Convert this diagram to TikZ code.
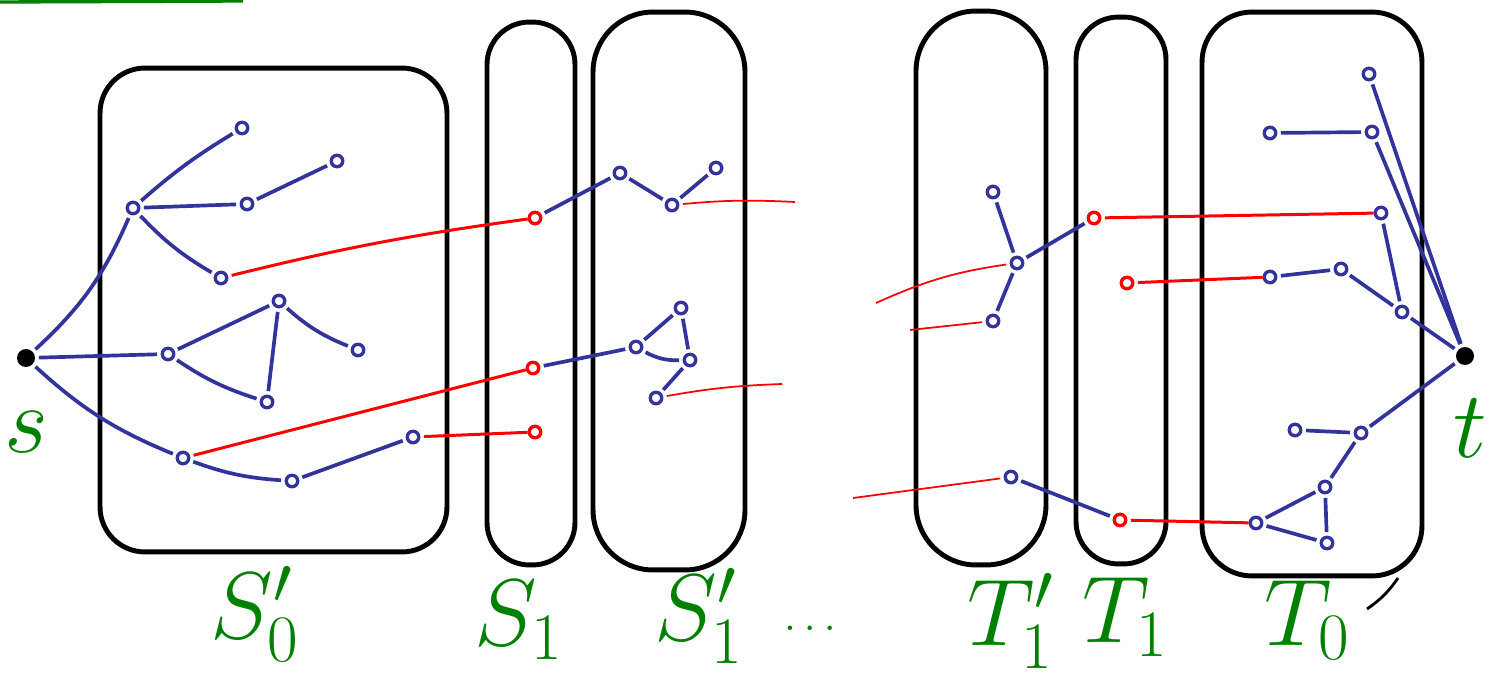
\RequirePackage{fix-cm}
\documentclass[tikz,border=0pt]{standalone}
\definecolor{pen}{HTML}{33339C}
\definecolor{cutred}{HTML}{FF0000}
\definecolor{lab}{HTML}{008000}

\begin{document}
\begin{tikzpicture}[x=0.02cm, y=-0.02cm,
  part/.style={draw=black, line width=2.8pt, rounded corners=#1},
  part/.default=0.9cm,
  vx/.style={circle, draw=pen, line width=1.9pt, inner sep=0pt, minimum size=0.23cm},
  rvx/.style={vx, draw=cutred},
  term/.style={circle, fill=black, inner sep=0pt, minimum size=0.36cm},
  link/.style={pen, line width=2.1pt, shorten <=2pt, shorten >=2pt},
  redlink/.style={cutred, line width=1.7pt, shorten <=2pt},
  stub/.style={cutred, line width=1pt, shorten <=2pt},
  lbl/.style={text=lab, font=\fontsize{54}{54}\selectfont, inner sep=0pt},
]
  \useasboundingbox (0,0) rectangle (1504,686);
  \draw[lab, line width=1.9pt] (0,2) -- (243,1);

  % the parts
  \node[part, minimum width=6.94cm, minimum height=9.68cm] (S0) at (273.5,310) {};
  \node[part=0.85cm, minimum width=1.76cm, minimum height=10.86cm] (S1) at (531,293.5) {};
  \node[part=1.2cm, minimum width=3.04cm, minimum height=11.16cm] (S1p) at (669,291) {};
  \node[part=1.2cm, minimum width=2.6cm, minimum height=11.08cm] (T1p) at (981,288) {};
  \node[part=0.85cm, minimum width=1.8cm, minimum height=10.94cm] (T1) at (1121,290.5) {};
  \node[part=1cm, minimum width=4.4cm, minimum height=11.28cm] (T0) at (1312,294) {};
  \draw[line width=1.6pt] (1398,578) to[bend left=10] (1367,609);

  % terminals
  \node[term] (s) at (26,358) {};
  \node[term] (t) at (1465,356) {};

  % S_0'
  \node[vx] (a) at (133,208) {};
  \node[vx] (b) at (242,128) {};
  \node[vx] (c) at (337,161) {};
  \node[vx] (d) at (247,204) {};
  \node[vx] (e) at (221,278) {};
  \node[vx] (g) at (279,301) {};
  \node[vx] (f) at (168,354) {};
  \node[vx] (h) at (358,350) {};
  \node[vx] (i) at (267,402) {};
  \node[vx] (j) at (183,458) {};
  \node[vx] (k) at (292,481) {};
  \node[vx] (l) at (413,437) {};
  % S_1 and S_1'
  \node[rvx] (m) at (535,218) {};
  \node[rvx] (n) at (533,368) {};
  \node[rvx] (o) at (535,432) {};
  \node[vx] (p) at (620,173) {};
  \node[vx] (q) at (672,205) {};
  \node[vx] (r) at (716,168) {};
  \node[vx] (u) at (636,347) {};
  \node[vx] (w) at (681,308) {};
  \node[vx] (x) at (690,360) {};
  \node[vx] (y) at (656,398) {};
  % T_1' and T_1
  \node[vx] (ta) at (993,192) {};
  \node[vx] (tb) at (1017,263) {};
  \node[vx] (tc) at (993,321) {};
  \node[vx] (td) at (1011,477) {};
  \node[rvx] (ua) at (1094,218) {};
  \node[rvx] (ub) at (1127,283) {};
  \node[rvx] (uc) at (1120,520) {};
  % T_0
  \node[vx] (A) at (1369,74) {};
  \node[vx] (B) at (1270,133) {};
  \node[vx] (C) at (1372,132) {};
  \node[vx] (D) at (1381,213) {};
  \node[vx] (E) at (1270,277) {};
  \node[vx] (F) at (1341,269) {};
  \node[vx] (G) at (1402,312) {};
  \node[vx] (H) at (1295,430) {};
  \node[vx] (I) at (1361,433) {};
  \node[vx] (J) at (1325,487) {};
  \node[vx] (K) at (1256,523) {};
  \node[vx] (L) at (1327,543) {};

  % loose ends of the cut edges
  \coordinate (qe) at (795,202);
  \coordinate (ye) at (782,384);
  \coordinate (tbe) at (876,303);
  \coordinate (tce) at (910,330);
  \coordinate (tde) at (853,498);

  % edges inside the parts
  \draw[link] (s) to[bend right=12] (a);
  \draw[link] (a) to[bend left=5] (b);
  \draw[link] (a) -- (d);
  \draw[link] (d) -- (c);
  \draw[link] (a) to[bend right=8] (e);
  \draw[link] (s) -- (f);
  \draw[link] (f) -- (g);
  \draw[link] (f) to[bend right=8] (i);
  \draw[link] (g) -- (i);
  \draw[link] (g) to[bend right=10] (h);
  \draw[link] (s) to[bend right=10] (j);
  \draw[link] (j) to[bend right=8] (k);
  \draw[link] (k) -- (l);
  \draw[link] (m) -- (p);
  \draw[link] (p) -- (q);
  \draw[link] (q) -- (r);
  \draw[link] (n) -- (u);
  \draw[link] (u) -- (w);
  \draw[link] (w) -- (x);
  \draw[link] (u) to[bend right=15] (x);
  \draw[link] (x) -- (y);
  \draw[link] (ta) -- (tb);
  \draw[link] (tb) -- (tc);
  \draw[link] (tb) -- (ua);
  \draw[link] (td) -- (uc);
  \draw[link] (B) -- (C);
  \draw[link] (A) -- (t);
  \draw[link] (C) -- (t);
  \draw[link] (D) -- (G);
  \draw[link] (E) -- (F);
  \draw[link] (F) -- (G);
  \draw[link] (G) -- (t);
  \draw[link] (t) -- (I);
  \draw[link] (H) -- (I);
  \draw[link] (I) -- (J);
  \draw[link] (J) -- (K);
  \draw[link] (J) -- (L);
  \draw[link] (K) -- (L);

  % edges between the parts
  \draw[redlink] (e) to[bend left=3] (m);
  \draw[redlink] (j) -- (n);
  \draw[redlink] (l) -- (o);
  \draw[stub] (q) to[bend left=4] (qe);
  \draw[stub] (y) to[bend left=4] (ye);
  \draw[stub] (tb) to[bend right=8] (tbe);
  \draw[stub] (tc) -- (tce);
  \draw[stub] (td) -- (tde);
  \draw[redlink] (ua) -- (D);
  \draw[redlink] (ub) -- (E);
  \draw[redlink] (uc) -- (K);

  % labels
  \node[lbl] (Ls) at (26,432) {$s$};
  \node[lbl] (Lt) at (1470,428) {$t$};
  \node[lbl, anchor=base west] (LS0) at (210,638) {$S_0'$};
  \node[lbl, anchor=base west] (LS1) at (474,645) {$S_1$};
  \node[lbl, anchor=base west] (LS1p) at (654,640) {$S_1'$};
  \node[lbl, font=\fontsize{26}{26}\selectfont] (Ldots) at (810,628) {$\dots$};
  \node[lbl, anchor=base west] (LT1p) at (967,645) {$T_1'$};
  \node[lbl, anchor=base west] (LT1) at (1082,642) {$T_1$};
  \node[lbl, anchor=base west] (LT0) at (1264,645) {$T_0$};
\end{tikzpicture}
\end{document}
